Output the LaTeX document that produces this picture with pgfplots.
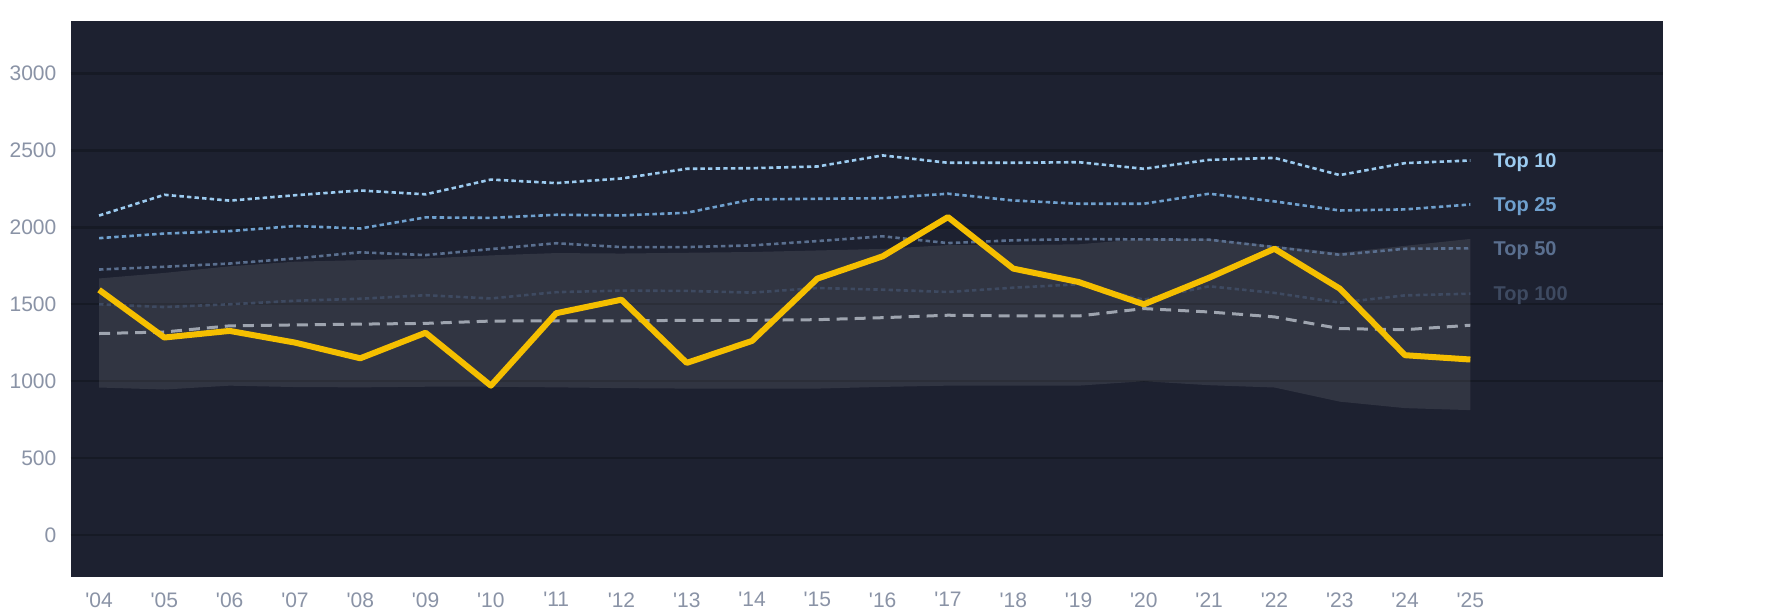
\documentclass[border=0pt]{standalone}
\usepackage{fontspec}
\setmainfont{Liberation Sans}
\usepackage{pgfplots}
\pgfplotsset{compat=1.18}
\definecolor{bgc}{HTML}{1D2130}
\definecolor{gridc}{HTML}{161A25}
\definecolor{tickc}{HTML}{8A93A6}
\definecolor{yel}{HTML}{F5BF00}
\definecolor{tten}{HTML}{9CCBF0}
\definecolor{ttf}{HTML}{6FA0CE}
\definecolor{tfif}{HTML}{5A6F8F}
\definecolor{thun}{HTML}{3E4A61}
\definecolor{medc}{HTML}{9EA4AF}
\newcommand{\q}{\textquotesingle}
\begin{document}
\begin{tikzpicture}
\path[use as bounding box, fill=white] (-35.5pt,-18.65pt) rectangle (857pt,288.35pt);
\begin{axis}[
  at={(0,0)}, anchor=south west,
  scale only axis, width=796pt, height=277.85pt,
  xmin=-0.43, xmax=23.95, ymin=-271, ymax=3342,
  axis background/.style={fill=bgc},
  axis line style={draw=none},
  major tick length=0pt,
  ytick={0,500,1000,1500,2000,2500,3000},
  xtick={0,...,21},
  xticklabels={\q04,\q05,\q06,\q07,\q08,\q09,\q10,\q11,\q12,\q13,\q14,\q15,\q16,\q17,\q18,\q19,\q20,\q21,\q22,\q23,\q24,\q25},
  ymajorgrids, grid style={gridc, line width=1.2pt},
  tick label style={font=\fontsize{10.5}{12}\selectfont, text=tickc},
  yticklabel style={xshift=-3.8pt},
  xticklabel style={yshift=-4.3pt},
  /pgf/number format/assume math mode=true,
  /pgf/number format/1000 sep={},
  clip=false,
]
% band
\addplot[draw=none, fill=white, fill opacity=0.09] coordinates {
(0,1668) (1,1704) (2,1747) (3,1777) (4,1787) (5,1798) (6,1818) (7,1833) (8,1830) (9,1835) (10,1840) (11,1850) (12,1860) (13,1885) (14,1885) (15,1890) (16,1925) (17,1925) (18,1880) (19,1835) (20,1880) (21,1925)
(21,812) (20,825) (19,867) (18,959) (17,974) (16,1000) (15,971) (14,971) (13,971) (12,963) (11,952) (10,952) (9,952) (8,955) (7,960) (6,964) (5,964) (4,960) (3,962) (2,971) (1,946) (0,959)
} -- cycle;
% top 100
\addplot[thun, line width=1.3pt, dash pattern=on 2.2pt off 1.6pt] coordinates {
(0,1500) (1,1482) (2,1500) (3,1523) (4,1536) (5,1559) (6,1538) (7,1579) (8,1589) (9,1587) (10,1576) (11,1606) (12,1595) (13,1580) (14,1608) (15,1630) (16,1530) (17,1617) (18,1574) (19,1511) (20,1558) (21,1569)};
% top 50
\addplot[tfif, line width=1.3pt, dash pattern=on 2.2pt off 1.6pt] coordinates {
(0,1726) (1,1744) (2,1765) (3,1798) (4,1838) (5,1820) (6,1859) (7,1897) (8,1872) (9,1872) (10,1883) (11,1911) (12,1942) (13,1898) (14,1916) (15,1924) (16,1922) (17,1920) (18,1872) (19,1822) (20,1861) (21,1864)};
% top 25
\addplot[ttf, line width=1.3pt, dash pattern=on 2.2pt off 1.6pt] coordinates {
(0,1930) (1,1960) (2,1976) (3,2009) (4,1993) (5,2065) (6,2062) (7,2082) (8,2078) (9,2095) (10,2182) (11,2186) (12,2190) (13,2219) (14,2175) (15,2154) (16,2154) (17,2219) (18,2169) (19,2110) (20,2117) (21,2149)};
% top 10
\addplot[tten, line width=1.3pt, dash pattern=on 2.2pt off 1.6pt] coordinates {
(0,2077) (1,2212) (2,2174) (3,2209) (4,2240) (5,2215) (6,2311) (7,2288) (8,2318) (9,2381) (10,2385) (11,2396) (12,2468) (13,2420) (14,2420) (15,2424) (16,2381) (17,2439) (18,2452) (19,2340) (20,2418) (21,2435)};
% median
\addplot[medc, line width=1.5pt, dash pattern=on 5.5pt off 3.5pt] coordinates {
(0,1310) (1,1320) (2,1360) (3,1366) (4,1371) (5,1376) (6,1391) (7,1393) (8,1392) (9,1396) (10,1396) (11,1400) (12,1413) (13,1429) (14,1424) (15,1424) (16,1472) (17,1450) (18,1418) (19,1342) (20,1335) (21,1364)};
% main
\addplot[yel, line width=3pt, line join=round] coordinates {
(0,1594) (1,1284) (2,1327) (3,1251) (4,1149) (5,1315) (6,971) (7,1442) (8,1530) (9,1119) (10,1262) (11,1667) (12,1812) (13,2067) (14,1732) (15,1645) (16,1500) (17,1673) (18,1861) (19,1602) (20,1169) (21,1141)};
\begin{scope}[every node/.style={anchor=base west, inner sep=0pt, yshift=-0.36em, font=\fontsize{10}{12}\selectfont\bfseries}]
\node[text=tten] at (axis cs:21.35,2435) {Top 10};
\node[text=ttf] at (axis cs:21.35,2149) {Top 25};
\node[text=tfif] at (axis cs:21.35,1864) {Top 50};
\node[text=thun] at (axis cs:21.35,1569) {Top 100};
\end{scope}
\end{axis}
\end{tikzpicture}
\end{document}
